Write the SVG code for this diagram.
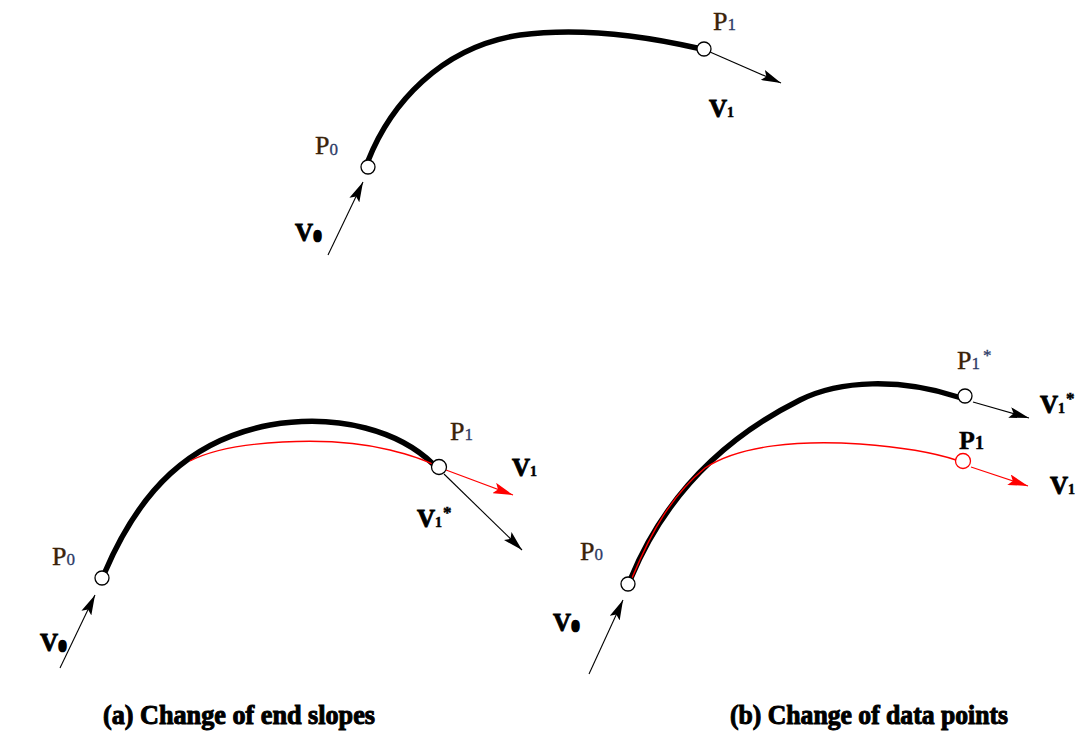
<svg xmlns="http://www.w3.org/2000/svg" width="1083" height="736" viewBox="0 0 1083 736">
<style>
  text { font-family: "Liberation Serif", "Times New Roman", serif; }
  .pl { font-size: 26px; fill: #3a2208; stroke: #3a2208; stroke-width: 0.4px; }
  .ps { font-size: 17px; fill: #2c3a66; stroke: #2c3a66; stroke-width: 0.3px; }
  .pb { font-size: 26px; font-weight: bold; fill: #000; stroke: #000; stroke-width: 0.4px; }
  .pbs { font-size: 18px; font-weight: bold; fill: #000; }
  .vl { font-size: 25px; font-weight: bold; fill: #000; stroke: #000; stroke-width: 0.9px; }
  .vs { font-size: 14px; font-weight: bold; stroke-width: 0.5px; }
  .blob { stroke: #000; stroke-width: 2.6px; }
  .star { font-size: 17px; font-weight: bold; stroke-width: 0.5px; }
  .cap { font-size: 27px; font-weight: bold; fill: #000; stroke: #000; stroke-width: 1px; }
  .thick { fill: none; stroke: #000; stroke-width: 5.5; stroke-linecap: round; }
  .thin-red { fill: none; stroke: #ff0000; stroke-width: 1.4; }
  .arr { fill: none; stroke: #000; stroke-width: 1.1; marker-end: url(#ah); }
  .arr-red { fill: none; stroke: #ff0000; stroke-width: 1.2; marker-end: url(#ahr); }
  .pt { fill: #fff; stroke: #000; stroke-width: 1.3; }
  .pt-red { fill: #fff; stroke: #ff0000; stroke-width: 1.3; }
</style>
<defs>
  <marker id="ah" viewBox="0 0 20 11" refX="20" refY="5.5" markerWidth="20" markerHeight="11" markerUnits="userSpaceOnUse" orient="auto">
    <path d="M0,0 L20,5.5 L0,11 L4,5.5 Z" fill="#000"/>
  </marker>
  <marker id="ahr" viewBox="0 0 20 11" refX="20" refY="5.5" markerWidth="20" markerHeight="11" markerUnits="userSpaceOnUse" orient="auto">
    <path d="M0,0 L20,5.5 L0,11 L4,5.5 Z" fill="#ff0000"/>
  </marker>
</defs>
<rect width="1083" height="736" fill="#fff"/>

<!-- curves -->
<g id="curves">
  <path class="thick" d="M368,161 C390,105 440,47 520,35 C580,27 640,35 697,48"/>
  <path class="thick" d="M105,572 C140,490 190,440 270,425 C340,413 400,432 433,464"/>
  <path class="thin-red" d="M190,461 C230,440 330,435 390,450 C410,455 425,460 434,465"/>
  <path class="thick" d="M631,578 C655,520 700,450 800,400 C840,380 900,378 958,397"/>
  <path class="thin-red" d="M632,578 C652,530 672,495 705,468 C740,445 800,440 860,444 C900,447 935,453 956,460"/>
</g>

<!-- connectors (tangent vectors) -->
<g id="connectors">
  <line class="arr" x1="710" y1="52" x2="781" y2="83"/>
  <line class="arr" x1="328" y1="255" x2="363" y2="182"/>
  <line class="arr" x1="60" y1="668" x2="95" y2="595"/>
  <line class="arr-red" x1="446" y1="470" x2="513" y2="495"/>
  <line class="arr" x1="444" y1="474" x2="522" y2="550"/>
  <line class="arr" x1="973" y1="402" x2="1029" y2="418"/>
  <line class="arr-red" x1="971" y1="467" x2="1028" y2="486"/>
  <line class="arr" x1="589" y1="674" x2="623" y2="600"/>
</g>

<!-- top diagram -->
<g id="top-P0">
  <circle class="pt" cx="368" cy="167" r="7"/>
  <text class="pl" x="315" y="154">P<tspan class="ps" dy="1">0</tspan></text>
</g>
<g id="top-P1">
  <circle class="pt" cx="704" cy="49" r="7"/>
  <text class="pl" x="713" y="30">P<tspan class="ps">1</tspan></text>
</g>
<g id="top-V1">
  <text class="vl" x="709" y="117">V<tspan class="vs">1</tspan></text>
</g>
<g id="top-V0">
  <text class="vl" x="295" y="241">V<tspan class="vs blob" dx="1">0</tspan></text>
</g>

<!-- bottom-left diagram (a) -->
<g id="a-P0">
  <circle class="pt" cx="102" cy="578" r="7"/>
  <text class="pl" x="52" y="565">P<tspan class="ps">0</tspan></text>
</g>
<g id="a-P1">
  <circle class="pt" cx="439" cy="467" r="7.5"/>
  <text class="pl" x="450" y="440">P<tspan class="ps">1</tspan></text>
</g>
<g id="a-V1">
  <text class="vl" x="512" y="476">V<tspan class="vs">1</tspan></text>
</g>
<g id="a-V1star">
  <text class="vl" x="417" y="527">V<tspan class="vs">1</tspan><tspan class="star" dx="1" dy="-9">*</tspan></text>
</g>
<g id="a-V0">
  <text class="vl" x="40" y="651">V<tspan class="vs blob" dx="1">0</tspan></text>
</g>
<g id="caption-a">
  <text class="cap" x="103" y="724" textLength="272" lengthAdjust="spacingAndGlyphs">(a) Change of end slopes</text>
</g>

<!-- bottom-right diagram (b) -->
<g id="b-P0">
  <circle class="pt" cx="628" cy="584" r="7"/>
  <text class="pl" x="580" y="560">P<tspan class="ps">0</tspan></text>
</g>
<g id="b-P1star">
  <circle class="pt" cx="965" cy="396" r="7"/>
  <text class="pl" x="957" y="369">P<tspan class="ps">1</tspan><tspan class="ps" dx="3" dy="-8">*</tspan></text>
</g>
<g id="b-V1star">
  <text class="vl" x="1040" y="413">V<tspan class="vs">1</tspan><tspan class="star" dx="1" dy="-9">*</tspan></text>
</g>
<g id="b-P1">
  <circle class="pt-red" cx="963" cy="461" r="7.5"/>
  <text class="pb" x="959" y="449">P<tspan class="pbs">1</tspan></text>
</g>
<g id="b-V1">
  <text class="vl" x="1050" y="494">V<tspan class="vs">1</tspan></text>
</g>
<g id="b-V0">
  <text class="vl" x="553" y="631">V<tspan class="vs blob" dx="1">0</tspan></text>
</g>
<g id="caption-b">
  <text class="cap" x="730" y="724" textLength="278" lengthAdjust="spacingAndGlyphs">(b) Change of data points</text>
</g>
</svg>
